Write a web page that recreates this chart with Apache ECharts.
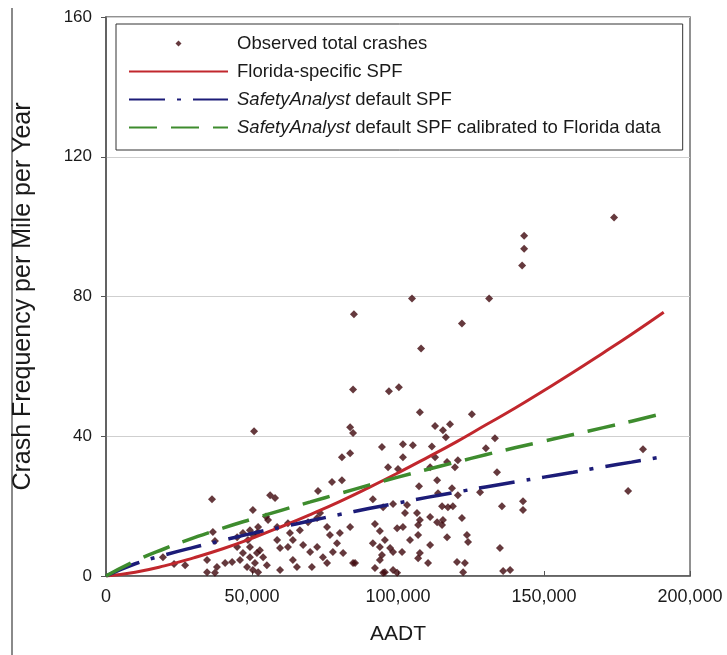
<!DOCTYPE html>
<html>
<head>
<meta charset="utf-8">
<script src="https://cdn.jsdelivr.net/npm/echarts@6/dist/echarts.min.js"></script>
<style>
html,body{margin:0;padding:0;background:#fff;}
#chart{width:727px;height:655px;}
</style>
</head>
<body>
<div id="chart"></div>
<script>
// ---------- data ----------
const seriesNames = [
  'Observed total crashes',
  'Florida-specific SPF',
  'SafetyAnalyst default SPF',
  'SafetyAnalyst default SPF calibrated to Florida data'
];
const xTicks = [0, 50000, 100000, 150000, 200000];
const yTicks = [0, 40, 80, 120, 160];

// observed points [AADT, crashes per mile per year]
const observedCrashes = [
  [174000,102.6],[143200,97.4],[143200,93.7],[142500,88.9],[131200,79.4],[104800,79.4],[84900,74.9],[121900,72.3],
  [107900,65.1],[84600,53.4],[96900,52.9],[100300,54.0],[107500,46.9],[125300,46.3],[50700,41.4],[83600,42.6],
  [84600,40.9],[112700,42.9],[115400,41.7],[117800,43.4],[116400,39.7],[133200,39.4],[101700,37.7],[105100,37.4],
  [111600,37.1],[94500,36.9],[101700,34.0],[130100,36.6],[183900,36.3],[80800,34.0],[83600,35.1],[96600,31.1],
  [100000,30.6],[112700,34.0],[116800,32.6],[120500,33.1],[119500,31.1],[111000,31.1],[133900,29.7],[178800,24.3],
  [77400,26.9],[80800,27.4],[107200,25.7],[113400,27.4],[113700,23.7],[118500,25.1],[120500,23.1],[128100,24.0],
  [72600,24.3],[56200,23.1],[57900,22.3],[36300,22.0],[91400,22.0],[94900,19.7],[98300,20.6],[103100,20.3],
  [102400,18.0],[106500,18.0],[107500,16.0],[111000,16.9],[115100,20.0],[117100,19.7],[118800,20.0],[115400,16.0],
  [121900,16.6],[113400,15.4],[115100,14.6],[135600,20.0],[142800,21.4],[142800,18.9],[50300,18.9],[73300,18.0],
  [72300,16.6],[55500,16.0],[54800,17.0],[52100,14.0],[58600,14.0],[62300,15.1],[66400,13.1],[69200,15.4],
  [75700,14.0],[76700,11.7],[80100,12.3],[83600,14.0],[92100,14.9],[93800,12.9],[99700,13.7],[101700,14.0],
  [106900,14.6],[106900,11.7],[104100,10.3],[111000,8.9],[116800,11.1],[123600,11.7],[124000,9.7],[95500,10.3],
  [98300,6.9],[101400,6.9],[107500,6.6],[106900,5.1],[110300,3.7],[120200,4.0],[122900,3.7],[122300,1.1],
  [134900,8.0],[136000,1.4],[138400,1.7],[93800,4.6],[98300,1.7],[85300,3.7],[95500,1.1],[92100,2.3],
  [63000,12.3],[64000,10.3],[58600,10.3],[59600,8.0],[62300,8.3],[67500,8.9],[69900,6.9],[72300,8.3],
  [49300,8.3],[52700,7.4],[53800,5.4],[51000,3.7],[55100,3.1],[59600,1.7],[64000,4.6],[65400,2.6],
  [70500,2.6],[74300,5.4],[77700,6.9],[79100,9.4],[75700,3.7],[81200,6.6],[84600,3.7],[91400,9.4],
  [93800,8.3],[94500,6.0],[97300,8.0],[94900,0.9],[99700,0.9],[49300,13.1],[50300,11.7],[36600,12.6],
  [37300,10.0],[44900,11.1],[46900,12.3],[51700,12.3],[19500,5.4],[27100,3.1],[23300,3.4],[34600,4.6],
  [38000,2.6],[40800,3.7],[43200,4.0],[34600,1.1],[37300,0.9],[44900,8.3],[46900,6.6],[49300,5.4],
  [51700,6.6],[45900,4.6],[48300,2.6],[50300,1.7],[52100,1.1],[48600,10.3]
];

// SPF curves (AADT, predicted crashes)
const curveAADT   = [0,10000,20000,30000,40000,50000,60000,70000,80000,90000,100000,110000,120000,130000,140000,150000,160000,170000,180000,191000];
const floridaSPF  = [0,1.1,2.9,5.2,7.8,10.8,14.1,17.6,21.3,25.3,29.5,33.9,38.4,43.2,48.0,53.1,58.3,63.7,69.2,75.5];
const defaultSPF  = [0,3.5,6.0,8.2,10.2,12.2,14.0,15.8,17.6,19.3,20.9,22.5,24.0,25.5,26.9,28.3,29.7,31.2,32.6,34.2];
const calibratedSPF = [0,4.3,7.8,10.9,13.7,16.3,18.8,21.2,23.6,26.0,28.3,30.5,32.6,34.7,36.7,38.6,40.5,42.4,44.3,46.6];

const pair = (xs, ys) => xs.map((x, i) => [x, ys[i]]);

// ---------- chart ----------
const chart = echarts.init(document.getElementById('chart'), null, {renderer: 'canvas'});
const FONT = 'Liberation Sans, Arial, sans-serif';
const txt = '#1a1a1a';
const LF = 18.5;

const option = {
  backgroundColor: '#fff',
  animation: false,
  grid: {left: 106, right: 37, top: 17, bottom: 79, show: true, borderColor: '#6e6e6e', borderWidth: 1.5, backgroundColor: 'transparent'},
  xAxis: {
    type: 'value', min: 0, max: 200000, interval: 50000,
    name: 'AADT', nameLocation: 'middle', nameGap: 48,
    nameTextStyle: {fontFamily: FONT, fontSize: 21, color: txt},
    axisLine: {show: true, lineStyle: {color: '#555', width: 1.5}},
    axisTick: {show: true, inside: true, length: 5, lineStyle: {color: '#555'}},
    axisLabel: {fontFamily: FONT, fontSize: 18, color: txt, margin: 12,
      formatter: v => xTicks.includes(v) ? v.toLocaleString('en-US') : ''},
    splitLine: {show: false}
  },
  yAxis: {
    type: 'value', min: 0, max: 160, interval: 40,
    name: 'Crash Frequency per Mile per Year', nameLocation: 'middle', nameGap: 70,
    nameTextStyle: {fontFamily: FONT, fontSize: 25, color: txt},
    axisLine: {show: true, lineStyle: {color: '#555', width: 1.5}},
    axisTick: {show: true, length: 5, lineStyle: {color: '#555'}},
    axisLabel: {fontFamily: FONT, fontSize: 17, color: txt, margin: 14,
      formatter: v => yTicks.includes(v) ? String(v) : ''},
    splitLine: {show: true, lineStyle: {color: '#cfcfcf', width: 1}}
  },
  legend: {
    orient: 'vertical', left: 116, top: 24,
    padding: [10, 22, 13, 12], itemGap: 9, itemWidth: 99, itemHeight: 16,
    backgroundColor: '#fff', borderColor: '#333', borderWidth: 1,
    textStyle: {fontFamily: FONT, fontSize: LF, color: txt, padding: [0, 0, 0, 4],
      rich: {i: {fontFamily: FONT, fontSize: LF, color: txt, fontStyle: 'italic'}, n: {fontFamily: FONT, fontSize: LF, color: txt}}},
    formatter: name => name.indexOf('SafetyAnalyst') === 0
      ? '{i|SafetyAnalyst}{n|' + name.slice('SafetyAnalyst'.length) + '}' : name,
    data: [
      {name: seriesNames[0], icon: 'path://M0,0 M99,16 M46.5,8 L49.5,5 L52.5,8 L49.5,11 Z'},
      {name: seriesNames[1], itemStyle: {opacity: 0}},
      {name: seriesNames[2], itemStyle: {opacity: 0}},
      {name: seriesNames[3], itemStyle: {opacity: 0}}
    ]
  },
  series: [
    {
      name: seriesNames[0], type: 'scatter', data: observedCrashes,
      symbol: 'diamond', symbolSize: 8,
      itemStyle: {color: '#3f080c'}, z: 2
    },
    {
      name: seriesNames[1], type: 'line', data: pair(curveAADT, floridaSPF),
      smooth: true, symbol: 'none', z: 3,
      lineStyle: {color: '#c1272d', width: 3}, itemStyle: {color: '#c1272d'}
    },
    {
      name: seriesNames[2], type: 'line', data: pair(curveAADT, defaultSPF),
      smooth: true, symbol: 'none', z: 3,
      lineStyle: {color: '#1c1c78', width: 3.5, type: [36, 12, 4, 12]}, itemStyle: {color: '#1c1c78'}
    },
    {
      name: seriesNames[3], type: 'line', data: pair(curveAADT, calibratedSPF),
      smooth: true, symbol: 'none', z: 3,
      lineStyle: {color: '#3e8c2e', width: 3.5, type: [28, 14]}, itemStyle: {color: '#3e8c2e'}
    }
  ],
  graphic: [
    {type: 'line', shape: {x1: 12, y1: 8, x2: 12, y2: 655}, style: {stroke: '#8a8a8a', lineWidth: 2}, silent: true}
  ]
};
chart.setOption(option);
</script>
</body>
</html>
